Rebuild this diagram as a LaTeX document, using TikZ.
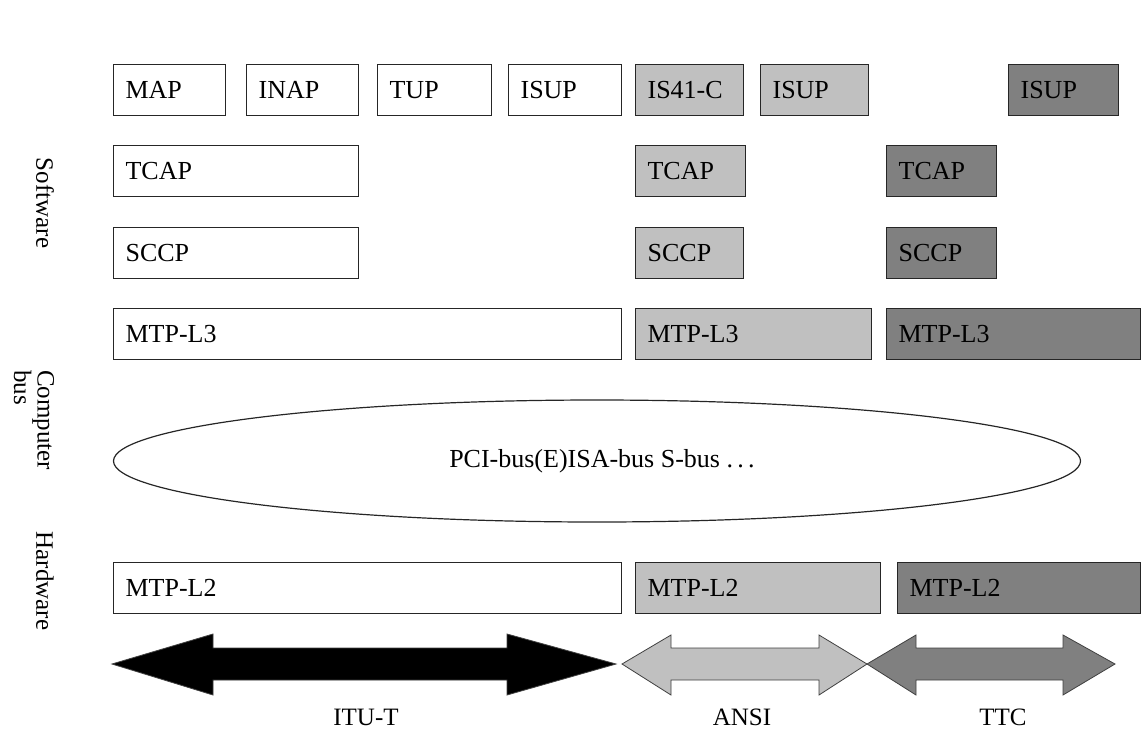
\documentclass[tikz,border=0pt]{standalone}
\usepackage{fontspec}
\setmainfont{Liberation Serif}
\usepackage{xcolor}
\usetikzlibrary{positioning, shapes.geometric}
\definecolor{ansigray}{HTML}{C0C0C0}
\definecolor{ttcgray}{HTML}{808080}

\begin{document}
\begin{tikzpicture}[x=1pt, y=-1pt,
  layer/.style={draw=black!85, line width=1.2pt, anchor=north west, minimum height=51pt,
    inner xsep=12pt, inner ysep=0pt, align=left, font=\fontsize{26}{30}\selectfont},
  side/.style={rotate=-90, align=left, font=\fontsize{25}{21}\selectfont},
  region/.style={font=\fontsize{25}{28}\selectfont},
  band/.style={draw=black!75, line width=0.8pt}]
\useasboundingbox (0,0) rectangle (1142,734);
\node[layer, text width=88pt] (itumap) at (113,64) {MAP};
\node[layer, text width=88pt] (ituinap) at (246,64) {INAP};
\node[layer, text width=90pt] (itutup) at (377,64) {TUP};
\node[layer, text width=89pt] (ituisup) at (508,64) {ISUP};
\node[layer, fill=ansigray, text width=84pt] (ansiis41) at (635,64) {IS41-C};
\node[layer, fill=ansigray, text width=84pt] (ansiisup) at (760,64) {ISUP};
\node[layer, fill=ttcgray, text width=86pt] (ttcisup) at (1008,64) {ISUP};
\node[layer, text width=221pt] (itutcap) at (113,145) {TCAP};
\node[layer, fill=ansigray, text width=86pt] (ansitcap) at (635,145) {TCAP};
\node[layer, fill=ttcgray, text width=86pt] (ttctcap) at (886,145) {TCAP};
\node[layer, text width=221pt] (itusccp) at (113,227) {SCCP};
\node[layer, fill=ansigray, text width=84pt] (ansisccp) at (635,227) {SCCP};
\node[layer, fill=ttcgray, text width=86pt] (ttcsccp) at (886,227) {SCCP};
\node[layer, text width=484pt] (itul3) at (113,308) {MTP-L3};
\node[layer, fill=ansigray, text width=212pt] (ansil3) at (635,308) {MTP-L3};
\node[layer, fill=ttcgray, text width=230pt] (ttcl3) at (886,308) {MTP-L3};
\node[draw=black!85, line width=1.2pt, ellipse, minimum width=967pt, minimum height=122pt,
  font=\fontsize{26}{30}\selectfont] (bus) at (597,461) {\hspace{10pt}PCI-bus(E)ISA-bus S-bus .\,.\,.};
\node[layer, text width=484pt] (itul2) at (113,562) {MTP-L2};
\node[layer, fill=ansigray, text width=221pt] (ansil2) at (635,562) {MTP-L2};
\node[layer, fill=ttcgray, text width=219pt] (ttcl2) at (897,562) {MTP-L2};
\filldraw[band, fill=black] (112,664) -- (213,634) -- (213,648) -- (507,648) -- (507,634) -- (616,664)
  -- (507,695) -- (507,680) -- (213,680) -- (213,695) -- cycle;
\filldraw[band, fill=ansigray] (622,664) -- (671,635) -- (671,648) -- (819,648) -- (819,635) -- (867,664)
  -- (819,695) -- (819,680) -- (671,680) -- (671,695) -- cycle;
\filldraw[band, fill=ttcgray] (867,664) -- (916,635) -- (916,648) -- (1063,648) -- (1063,635) -- (1115,664)
  -- (1063,695) -- (1063,680) -- (916,680) -- (916,695) -- cycle;
\node[region] (itut) at (366,717) {ITU-T};
\node[region] (ansi) at (742,717) {ANSI};
\node[region] (ttc) at (1003,717) {TTC};
\node[side] (software) at (45,203) {Software};
\node[side] (compbus) at (34,420) {Computer\\bus};
\node[side] (hardware) at (45,581) {Hardware};
\end{tikzpicture}
\end{document}
